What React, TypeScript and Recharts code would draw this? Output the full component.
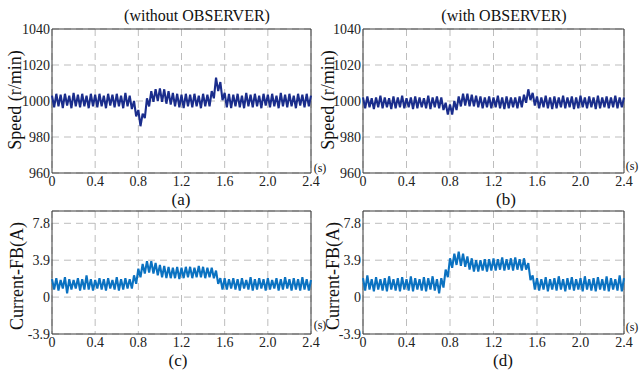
import React from 'react';
import { LineChart, Line, XAxis, YAxis, CartesianGrid, ReferenceArea } from 'recharts';

// sampled every 0.02 s, 0 .. 2.4 s
const TIME_STEP = 0.02;

const speedWithout = [
  1003, 996.5, 1004, 997, 1003.5, 996, 1004, 997.5, 1003, 996,
  1004.5, 997, 1003.5, 996.5, 1004, 997, 1003, 996, 1004, 997,
  1003.5, 996.5, 1004, 997, 1003, 996, 1004, 997.5, 1003.5, 996.5,
  1004, 997, 1003, 996, 1004.5, 997, 1003, 995.5, 1000, 991.5,
  995, 986, 993, 990.5, 1001.5, 997, 1005.5, 999.5, 1006.5, 1000,
  1007, 999.5, 1006.5, 998.5, 1005.5, 998, 1004.5, 997, 1004, 996.5,
  1003.5, 996, 1004, 997, 1003.5, 996.5, 1004, 997, 1003, 996,
  1004, 997, 1003.5, 997, 1005.5, 1001.5, 1013, 1005.5, 1010.5, 1000.5,
  1004.5, 996.5, 1004, 996, 1003.5, 997, 1004, 996.5, 1003, 996,
  1004.5, 997, 1003.5, 996.5, 1004, 997, 1003, 996, 1004, 997.5,
  1003.5, 996.5, 1004, 997, 1003, 996, 1004.5, 997, 1003.5, 996.5,
  1004, 997, 1003, 996, 1004, 997.5, 1003.5, 996.5, 1004, 997,
  1003,
];

const speedWith = [
  1002, 996, 1002.5, 996.5, 1001.5, 995.5, 1002, 996.5, 1003, 996,
  1002, 996.5, 1001.5, 995.5, 1002.5, 996, 1002, 996.5, 1003, 996,
  1001.5, 996.5, 1002, 995.5, 1002.5, 996, 1002, 996.5, 1001.5, 996,
  1003, 995.5, 1002, 996.5, 1002.5, 996, 1002, 995, 999, 992.5,
  998, 992.5, 1000, 995, 1002.5, 997, 1004, 997.5, 1004, 997,
  1003.5, 997, 1003, 996.5, 1002.5, 996, 1002, 996.5, 1002.5, 996,
  1002, 996.5, 1003, 996, 1002, 995.5, 1002.5, 996, 1002, 996.5,
  1002, 996, 1002.5, 996.5, 1003.5, 999, 1006.5, 1000.5, 1004.5, 997.5,
  1002.5, 996, 1002, 996.5, 1003, 996, 1002, 995.5, 1002.5, 996,
  1002, 996.5, 1003, 996, 1002, 996.5, 1002.5, 995.5, 1002, 996,
  1003, 996.5, 1002, 996, 1002.5, 996.5, 1002, 995.5, 1003, 996,
  1002, 996.5, 1002.5, 996, 1002, 996.5, 1003, 996, 1002, 996.5,
  1002,
];

const currentWithout = [
  1.9, 0.8, 2.0, 0.7, 1.8, 0.9, 2.1, 0.4, 1.9, 0.8,
  1.8, 0.9, 2.0, 0.7, 1.9, 0.8, 2.3, 0.8, 1.9, 0.7,
  1.8, 0.9, 2.0, 0.8, 1.9, 0.7, 2.0, 0.9, 1.8, 0.8,
  2.1, 0.7, 1.9, 0.8, 2.0, 0.9, 1.9, 0.9, 2.3, 1.4,
  3.0, 2.1, 3.5, 2.5, 3.8, 2.6, 3.8, 2.5, 3.6, 2.3,
  3.4, 2.1, 3.3, 2.0, 3.2, 2.0, 3.1, 2.0, 3.2, 1.9,
  3.1, 2.0, 3.2, 2.1, 3.2, 2.0, 3.1, 2.1, 3.3, 2.1,
  3.2, 2.0, 3.1, 2.1, 3.1, 2.0, 2.8, 1.4, 2.0, 0.8,
  2.0, 0.8, 1.9, 0.9, 2.0, 0.8, 1.9, 0.7, 2.0, 0.9,
  1.8, 0.8, 2.1, 0.7, 1.9, 0.8, 2.0, 0.9, 1.9, 0.7,
  2.0, 0.8, 1.8, 0.9, 2.0, 0.7, 1.9, 0.8, 2.1, 0.9,
  1.9, 0.7, 2.0, 0.8, 1.9, 0.7, 2.1, 0.8, 1.9, 0.7,
  1.8,
];

const currentWith = [
  2.0, 0.7, 2.3, 0.8, 1.9, 0.6, 2.1, 0.8, 1.9, 0.7,
  2.0, 0.6, 2.2, 0.8, 1.9, 0.7, 2.0, 0.6, 2.1, 0.8,
  1.9, 0.7, 2.2, 0.6, 2.0, 0.8, 1.9, 0.7, 2.1, 0.6,
  2.0, 0.8, 2.2, 0.7, 1.9, 0.4, 2.0, 1.0, 2.9, 2.1,
  4.1, 3.1, 4.6, 3.4, 4.8, 3.3, 4.6, 3.2, 4.3, 2.9,
  4.1, 2.7, 3.9, 2.7, 3.9, 2.8, 4.0, 2.7, 4.0, 2.8,
  4.1, 2.8, 4.0, 2.9, 4.2, 2.8, 4.0, 2.9, 4.1, 2.8,
  4.2, 2.9, 4.0, 2.8, 4.1, 2.9, 3.6, 1.8, 2.3, 0.8,
  2.0, 0.7, 1.9, 0.8, 2.1, 0.6, 1.9, 0.8, 2.0, 0.7,
  2.2, 0.8, 1.9, 0.6, 2.0, 0.8, 2.1, 0.7, 1.9, 0.8,
  2.0, 0.6, 2.2, 0.8, 1.9, 0.7, 2.0, 0.6, 2.1, 0.8,
  1.9, 0.7, 2.2, 0.6, 2.0, 0.8, 1.9, 0.7, 2.3, 0.6,
  2.0,
];

const timeTicks = [0, 0.4, 0.8, 1.2, 1.6, 2.0, 2.4];
const speedTicks = [960, 980, 1000, 1020, 1040];
const currentTicks = [-3.9, 0, 3.9, 7.8];

const rows = speedWithout.map((v, i) => ({
  t: Number((i * TIME_STEP).toFixed(2)),
  speedA: v,
  speedB: speedWith[i],
  curC: currentWithout[i],
  curD: currentWith[i],
}));

const FONT = '"Liberation Serif", "Times New Roman", serif';
const SPEED_COLOR = '#1a2d8c';
const CURRENT_COLOR = '#0b72c1';

const fmt = (v: number) => (v === 0 ? '0' : v.toFixed(1));

interface PanelProps {
  left: number;
  top: number;
  width: number;
  height: number;
  marginTop: number;
  marginRight: number;
  yWidth: number;
  xHeight: number;
  dataKey: string;
  color: string;
  domain: [number, number];
  ticks: number[];
  yFmt?: (v: number) => string;
}

const Panel: React.FC<PanelProps> = ({
  left, top, width, height, marginTop, marginRight, yWidth, xHeight,
  dataKey, color, domain, ticks, yFmt,
}) => (
  <div style={{ position: 'absolute', left, top }}>
    <LineChart
      width={width}
      height={height}
      data={rows}
      margin={{ top: marginTop, right: marginRight, bottom: 0, left: 0 }}
    >
      <CartesianGrid stroke="#bdbdbd" strokeDasharray="7 5" />
      <XAxis
        dataKey="t"
        type="number"
        domain={[0, 2.4]}
        ticks={timeTicks}
        interval={0}
        tickFormatter={fmt}
        height={xHeight}
        tickSize={0}
        tickMargin={3}
        axisLine={false}
        tick={{ fontSize: 14, fill: '#222', fontFamily: FONT }}
      />
      <YAxis
        type="number"
        domain={domain}
        ticks={ticks}
        interval={0}
        allowDataOverflow
        tickFormatter={yFmt}
        width={yWidth}
        tickSize={0}
        tickMargin={2}
        axisLine={false}
        tick={{ fontSize: 14, fill: '#222', fontFamily: FONT }}
      />
      <ReferenceArea
        x1={0}
        x2={2.4}
        y1={domain[0]}
        y2={domain[1]}
        fill="none"
        stroke="#3a3a3a"
        strokeWidth={1}
        ifOverflow="visible"
      />
      <Line
        type="linear"
        dataKey={dataKey}
        stroke={color}
        strokeWidth={2.1}
        strokeLinejoin="bevel"
        dot={false}
        isAnimationActive={false}
      />
    </LineChart>
  </div>
);

const Txt: React.FC<{ x: number; y: number; size: number; rotate?: boolean; children: React.ReactNode }> = ({
  x, y, size, rotate, children,
}) => (
  <div
    style={{
      position: 'absolute',
      left: x,
      top: y,
      transform: `translate(-50%, -50%)${rotate ? ' rotate(-90deg)' : ''}`,
      fontFamily: FONT,
      fontSize: size,
      color: '#111',
      whiteSpace: 'nowrap',
      lineHeight: 1,
    }}
  >
    {children}
  </div>
);

export default function App() {
  return (
    <div style={{ position: 'absolute', left: 0, top: 0, width: 639, height: 371, background: '#fff', overflow: 'hidden' }}>
      <Panel left={0} top={0} width={320} height={190} marginTop={29} marginRight={9} yWidth={52} xHeight={17}
        dataKey="speedA" color={SPEED_COLOR} domain={[960, 1040]} ticks={speedTicks} />
      <Panel left={320} top={0} width={319} height={190} marginTop={29} marginRight={15} yWidth={43} xHeight={17}
        dataKey="speedB" color={SPEED_COLOR} domain={[960, 1040]} ticks={speedTicks} />
      <Panel left={0} top={190} width={320} height={160} marginTop={21} marginRight={9} yWidth={52} xHeight={16}
        dataKey="curC" color={CURRENT_COLOR} domain={[-3.9, 9.1]} ticks={currentTicks} yFmt={fmt} />
      <Panel left={320} top={190} width={319} height={160} marginTop={21} marginRight={15} yWidth={43} xHeight={16}
        dataKey="curD" color={CURRENT_COLOR} domain={[-3.9, 9.1]} ticks={currentTicks} yFmt={fmt} />

      <Txt x={197} y={16} size={16}>(without OBSERVER)</Txt>
      <Txt x={504} y={16} size={16}>(with OBSERVER)</Txt>

      <Txt x={15} y={100} size={18} rotate>Speed (r/min)</Txt>
      <Txt x={328} y={100} size={18} rotate>Speed (r/min)</Txt>
      <Txt x={17} y={276} size={18} rotate>Current-FB(A)</Txt>
      <Txt x={333} y={276} size={18} rotate>Current-FB(A)</Txt>

      <Txt x={320} y={168} size={12}>(s)</Txt>
      <Txt x={632} y={166} size={12}>(s)</Txt>
      <Txt x={320} y={325} size={12}>(s)</Txt>
      <Txt x={632} y={327} size={12}>(s)</Txt>

      <Txt x={181} y={199} size={17}>(a)</Txt>
      <Txt x={506} y={199} size={17}>(b)</Txt>
      <Txt x={178} y={360} size={17}>(c)</Txt>
      <Txt x={503} y={360} size={17}>(d)</Txt>
    </div>
  );
}
